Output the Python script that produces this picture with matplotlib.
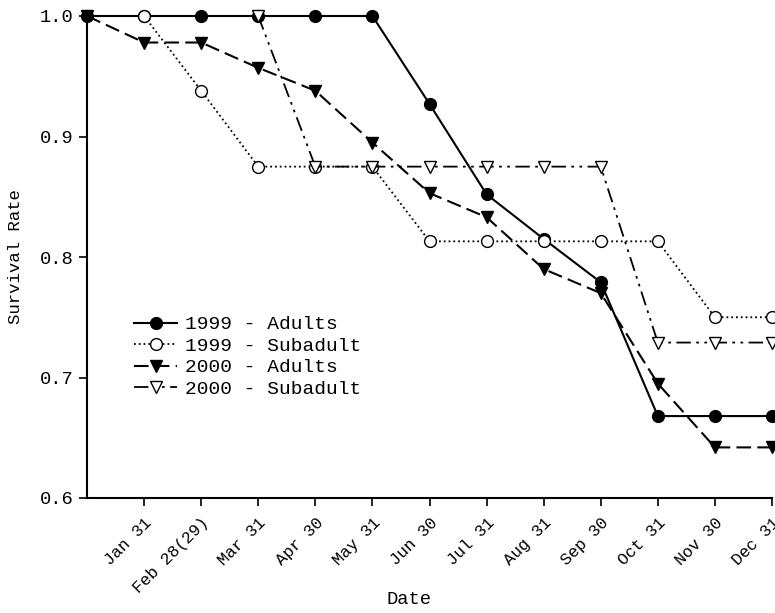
import numpy as np
import matplotlib
matplotlib.use('Agg')
import matplotlib.pyplot as plt

plt.rcParams['font.family'] = ['Liberation Mono', 'DejaVu Sans Mono']

# Month ends (position 0 is the start of the year)
months = ['Jan 31', 'Feb 28(29)', 'Mar 31', 'Apr 30', 'May 31', 'Jun 30',
          'Jul 31', 'Aug 31', 'Sep 30', 'Oct 31', 'Nov 30', 'Dec 31']
x = np.arange(0, 13)

# Survival rates (nan = no point plotted)
nan = np.nan
adults_1999 = [1.0, 1.0, 1.0, 1.0, 1.0, 1.0, 0.927, 0.852, 0.815, 0.779, 0.668, 0.668, 0.668]
subadult_1999 = [nan, 1.0, 0.938, 0.875, 0.875, 0.875, 0.813, 0.813, 0.813, 0.813, 0.813, 0.750, 0.750]
adults_2000 = [1.0, 0.978, 0.978, 0.957, 0.938, 0.895, 0.853, 0.833, 0.790, 0.770, 0.695, 0.642, 0.642]
subadult_2000 = [nan, nan, nan, 1.0, 0.875, 0.875, 0.875, 0.875, 0.875, 0.875, 0.729, 0.729, 0.729]

fig = plt.figure(figsize=(7.75, 6.13), dpi=100)
ax = fig.add_axes([87/775, 1 - 498/613, (772 - 87)/775, (498 - 16)/613])

ms = 8.5
ax.plot(x, adults_2000, color='black', lw=1.5, dashes=(7, 3), marker='v', ms=ms,
        mfc='black', label='2000 - Adults', clip_on=False, zorder=3)
ax.plot(x, adults_1999, '-', color='black', lw=1.5, marker='o', ms=ms,
        mfc='black', label='1999 - Adults', clip_on=False, zorder=4)
ax.plot(x, subadult_1999, ':', color='black', lw=1.3, marker='o', ms=ms,
        mfc='white', label='1999 - Subadult', clip_on=False, zorder=5)
ax.plot(x, subadult_2000, color='black', lw=1.3, dashes=(8, 3, 1.5, 3, 1.5, 3),
        marker='v', ms=ms, mfc='white', label='2000 - Subadult', clip_on=False, zorder=6)

ax.set_xlim(0, 12)
ax.set_ylim(0.6, 1.0)
ax.set_xticks(np.arange(1, 13))
ax.set_xticklabels(months, rotation=45, ha='right', rotation_mode='anchor', fontsize=12)
ax.set_yticks([0.6, 0.7, 0.8, 0.9, 1.0])
ax.set_yticklabels(['0.6', '0.7', '0.8', '0.9', '1.0'], fontsize=13.5)
ax.tick_params(direction='out', length=6, width=1.2)
ax.tick_params(axis='x', pad=6)
ax.spines['top'].set_visible(False)
ax.spines['right'].set_visible(False)
ax.spines['left'].set_linewidth(1.5)
ax.spines['bottom'].set_linewidth(1.5)

ax.set_ylabel('Survival Rate', fontsize=12.5, labelpad=12)
# x-axis title placed a bit higher so it fits inside the figure
fig.text(409/775, 1 - 600/613, 'Date', fontsize=13.5, ha='center', va='center')

handles, labels = ax.get_legend_handles_labels()
order = [1, 2, 0, 3]
ax.legend([handles[i] for i in order], [labels[i] for i in order],
          loc='lower left', bbox_to_anchor=(0.055, 0.1875), frameon=False,
          fontsize=14, handlelength=2.2, handletextpad=0.4, labelspacing=0.2,
          borderpad=0)

fig.savefig('out.png', dpi=100)
